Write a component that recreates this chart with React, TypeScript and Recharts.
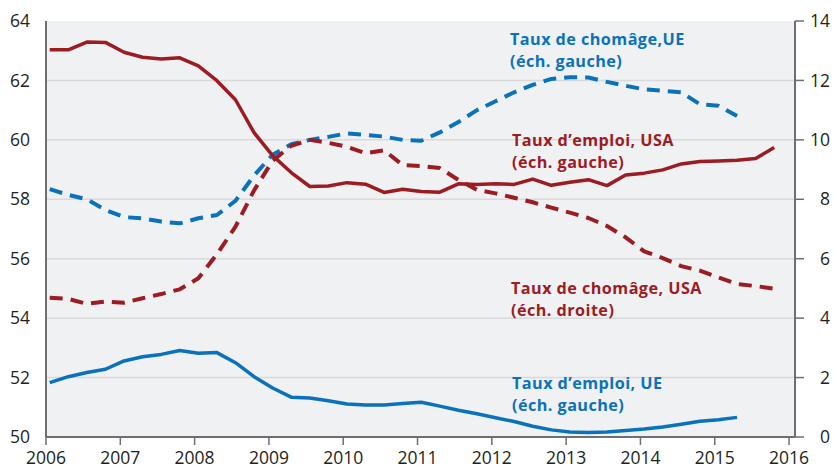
import React from "react";
import {
  LineChart,
  Line,
  XAxis,
  YAxis,
  CartesianGrid,
  Customized,
} from "recharts";

// Quarters 2006T1 .. 2015T4
const years = [2006, 2007, 2008, 2009, 2010, 2011, 2012, 2013, 2014, 2015];
const quarters = [1, 2, 3, 4];

// Taux d'emploi, USA (éch. gauche)
const usEmployment = [
  63.03, 63.03, 63.29, 63.28, 62.95, 62.78, 62.72, 62.76, 62.49, 61.99,
  61.35, 60.24, 59.47, 58.9, 58.43, 58.45, 58.56, 58.51, 58.23, 58.34,
  58.26, 58.24, 58.52, 58.5, 58.52, 58.5, 58.68, 58.47, 58.57, 58.66,
  58.46, 58.82, 58.88, 58.99, 59.19, 59.27, 59.29, 59.31, 59.37, 59.74,
];

// Taux de chômage, USA (éch. droite)
const usUnemployment = [
  4.69, 4.65, 4.48, 4.56, 4.52, 4.67, 4.81, 4.97, 5.34, 6.15,
  7.08, 8.3, 9.3, 9.8, 10.0, 9.9, 9.77, 9.55, 9.65, 9.15,
  9.12, 9.05, 8.65, 8.32, 8.2, 8.05, 7.9, 7.72, 7.55, 7.37,
  7.1, 6.72, 6.25, 6.02, 5.75, 5.6, 5.37, 5.15, 5.08, 4.99,
];

// Taux de chômage, UE (tracé sur l'échelle 0-14)
const euUnemployment = [
  8.34, 8.15, 8.0, 7.64, 7.4, 7.36, 7.25, 7.19, 7.36, 7.47,
  7.95, 8.8, 9.5, 9.85, 10.0, 10.1, 10.22, 10.17, 10.11, 10.0,
  9.97, 10.25, 10.6, 11.0, 11.3, 11.6, 11.85, 12.05, 12.11, 12.1,
  11.95, 11.82, 11.7, 11.65, 11.6, 11.2, 11.15, 10.8,
];

// Taux d'emploi, UE (éch. gauche)
const euEmployment = [
  51.83, 52.03, 52.17, 52.28, 52.56, 52.7, 52.78, 52.91, 52.82, 52.84,
  52.5, 52.03, 51.65, 51.34, 51.31, 51.22, 51.11, 51.08, 51.08, 51.13,
  51.17, 51.04, 50.9, 50.78, 50.65, 50.52, 50.36, 50.24, 50.17, 50.15,
  50.17, 50.22, 50.27, 50.34, 50.43, 50.53, 50.58, 50.66,
];

const xTicks = [2006, 2007, 2008, 2009, 2010, 2011, 2012, 2013, 2014, 2015, 2016];
const leftTicks = [50, 52, 54, 56, 58, 60, 62, 64];
const rightTicks = [0, 2, 4, 6, 8, 10, 12, 14];
const gridValues = [52, 54, 56, 58, 60, 62];

const RED = "#9c1c24";
const BLUE = "#0a72ba";
const AXIS = "#6e6f72";
const TEXT = "#231f20";
const FONT = "'Open Sans', 'DejaVu Sans', sans-serif";

const data = [];
years.forEach((y, yi) => {
  quarters.forEach((q, qi) => {
    const i = yi * 4 + qi;
    data.push({
      t: y + (q - 1) / 4 + 0.05,
      usEmp: usEmployment[i],
      usUnemp: usUnemployment[i],
      euUnemp: euUnemployment[i],
      euEmp: euEmployment[i],
    });
  });
});

const annotations = [
  { x: 510, y: 45, color: BLUE, lines: ["Taux de chomâge,UE", "(éch. gauche)"] },
  { x: 512, y: 146, color: RED, lines: ["Taux d\u2019emploi, USA", "(éch. gauche)"] },
  { x: 511, y: 294, color: RED, lines: ["Taux de chomâge, USA", "(éch. droite)"] },
  { x: 512, y: 389, color: BLUE, lines: ["Taux d\u2019emploi, UE", "(éch. gauche)"] },
];

const Annotations = () => (
  <g>
    {annotations.map((a, i) =>
      a.lines.map((l, j) => (
        <text
          key={`${i}-${j}`}
          x={a.x}
          y={a.y + j * 22.3}
          fill={a.color}
          fontFamily={FONT}
          fontWeight={700}
          fontSize={16.2}
          letterSpacing={0.45}
        >
          {l}
        </text>
      ))
    )}
  </g>
);

const RightTick = (props: any) => {
  const { y, payload } = props;
  return (
    <text
      x={830}
      y={y}
      dy="0.355em"
      textAnchor="end"
      fill={TEXT}
      fontFamily={FONT}
      fontSize={17.5}
    >
      {payload.value}
    </text>
  );
};

export default function App() {
  return (
    <div style={{ position: "absolute", left: 0, top: 0, width: 834, height: 470, background: "#fff" }}>
      <LineChart
        width={834}
        height={470}
        data={data}
        margin={{ top: 21, right: 0, bottom: 0, left: 0 }}
      >
        <CartesianGrid
          yAxisId="left"
          vertical={false}
          horizontalValues={gridValues}
          fill="#f0f1f3"
          stroke="#d9dadc"
          strokeWidth={1.5}
        />
        <XAxis
          dataKey="t"
          type="number"
          domain={[2006, 2016.08]}
          ticks={xTicks}
          allowDataOverflow
          height={33}
          tickSize={8}
          tickMargin={7}
          interval={0}
          axisLine={{ stroke: AXIS, strokeWidth: 2 }}
          tickLine={{ stroke: AXIS, strokeWidth: 1.5 }}
          tick={{ fill: TEXT, fontFamily: FONT, fontSize: 17.5 }}
        />
        <YAxis
          yAxisId="left"
          orientation="left"
          domain={[50, 64]}
          ticks={leftTicks}
          width={46}
          tickSize={8}
          tickMargin={8}
          interval={0}
          axisLine={{ stroke: AXIS, strokeWidth: 2 }}
          tickLine={false}
          tick={{ fill: TEXT, fontFamily: FONT, fontSize: 17.5 }}
        />
        <YAxis
          yAxisId="right"
          orientation="right"
          domain={[0, 14]}
          ticks={rightTicks}
          width={39}
          tickSize={9}
          tickMargin={6}
          interval={0}
          axisLine={{ stroke: AXIS, strokeWidth: 2 }}
          tickLine={{ stroke: AXIS, strokeWidth: 1.5 }}
          tick={<RightTick />}
        />
        <Line
          yAxisId="right"
          dataKey="euUnemp"
          stroke={BLUE}
          strokeWidth={4}
          strokeDasharray="13 8"
          dot={false}
          isAnimationActive={false}
          strokeLinejoin="round"
        />
        <Line
          yAxisId="right"
          dataKey="usUnemp"
          stroke={RED}
          strokeWidth={4}
          strokeDasharray="13 8"
          dot={false}
          isAnimationActive={false}
          strokeLinejoin="round"
        />
        <Line
          yAxisId="left"
          dataKey="usEmp"
          stroke={RED}
          strokeWidth={3.5}
          dot={false}
          isAnimationActive={false}
          strokeLinejoin="round"
        />
        <Line
          yAxisId="left"
          dataKey="euEmp"
          stroke={BLUE}
          strokeWidth={3.5}
          dot={false}
          isAnimationActive={false}
          strokeLinejoin="round"
        />
        <Customized component={Annotations} />
      </LineChart>
    </div>
  );
}
